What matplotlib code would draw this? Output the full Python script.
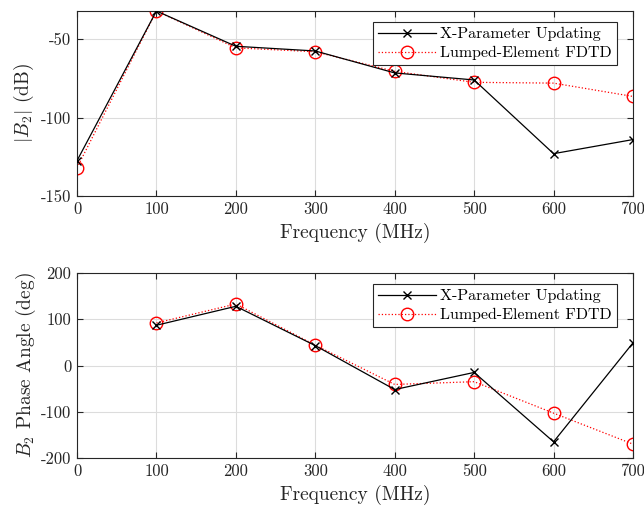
import matplotlib
matplotlib.use("Agg")
import matplotlib.pyplot as plt

plt.rcParams["font.family"] = "serif"
plt.rcParams["font.serif"] = ["cmr10"]
plt.rcParams["mathtext.fontset"] = "cm"
plt.rcParams["axes.formatter.use_mathtext"] = False
plt.rcParams["axes.unicode_minus"] = False

# ── data ──────────────────────────────────────
freq_mag = [0, 100, 200, 300, 400, 500, 600, 700]
xparam_mag = [-127.5, -32, -54.5, -57.5, -71.5, -76, -123, -114]
fdtd_mag = [-132, -32, -55.5, -58, -70.5, -77.5, -78, -86.5]

freq_ph = [100, 200, 300, 400, 500, 600, 700]
xparam_ph = [87, 128, 43, -52, -15, -165, 49]
fdtd_ph = [92, 133, 44, -41, -35, -103, -170]

edge = "#262626"

fig = plt.figure(figsize=(6.44, 5.12), dpi=100)
ax1 = fig.add_axes([77 / 644, 1 - 196 / 512, 556 / 644, 185 / 512])
ax2 = fig.add_axes([77 / 644, 1 - 458 / 512, 556 / 644, 185 / 512])


def style(ax):
    ax.grid(True, color="#dcdcdc", linewidth=0.8)
    ax.set_axisbelow(True)
    for s in ax.spines.values():
        s.set_color(edge)
        s.set_linewidth(0.8)
    ax.tick_params(direction="in", top=True, right=True, colors=edge,
                   labelcolor="#262626", labelsize=12, length=4, pad=4)
    ax.set_xlim(0, 700)
    ax.set_xticks(range(0, 701, 100))
    ax.set_xlabel("Frequency (MHz)", fontsize=14, color="#262626", labelpad=4)
    leg = ax.legend(loc="upper right", bbox_to_anchor=(0.971, 0.94),
                    borderaxespad=0, fontsize=11.5, fancybox=False,
                    framealpha=1, handlelength=3.6, borderpad=0.3,
                    labelspacing=0.3, handletextpad=0.3)
    leg.get_frame().set_edgecolor(edge)
    leg.get_frame().set_linewidth(0.8)


# top: magnitude
ax1.plot(freq_mag, xparam_mag, "k-x", linewidth=0.9, markersize=6,
         label="X-Parameter Updating", zorder=3)
ax1.plot(freq_mag, fdtd_mag, color="red", linestyle=":", marker="o",
         markerfacecolor="none", linewidth=0.9, markersize=9,
         label="Lumped-Element FDTD", zorder=2)
ax1.set_ylim(-150, -32)
ax1.set_yticks([-150, -100, -50])
ax1.set_ylabel(r"$|B_2|$ (dB)", fontsize=14, color="#262626")
style(ax1)

# bottom: phase
ax2.plot(freq_ph, xparam_ph, "k-x", linewidth=0.9, markersize=6,
         label="X-Parameter Updating", zorder=3)
ax2.plot(freq_ph, fdtd_ph, color="red", linestyle=":", marker="o",
         markerfacecolor="none", linewidth=0.9, markersize=9,
         label="Lumped-Element FDTD", zorder=2)
ax2.set_ylim(-200, 200)
ax2.set_yticks([-200, -100, 0, 100, 200])
ax2.set_ylabel(r"$B_2$ Phase Angle (deg)", fontsize=14, color="#262626",
               labelpad=2)
style(ax2)

fig.savefig("out.png", dpi=100)
